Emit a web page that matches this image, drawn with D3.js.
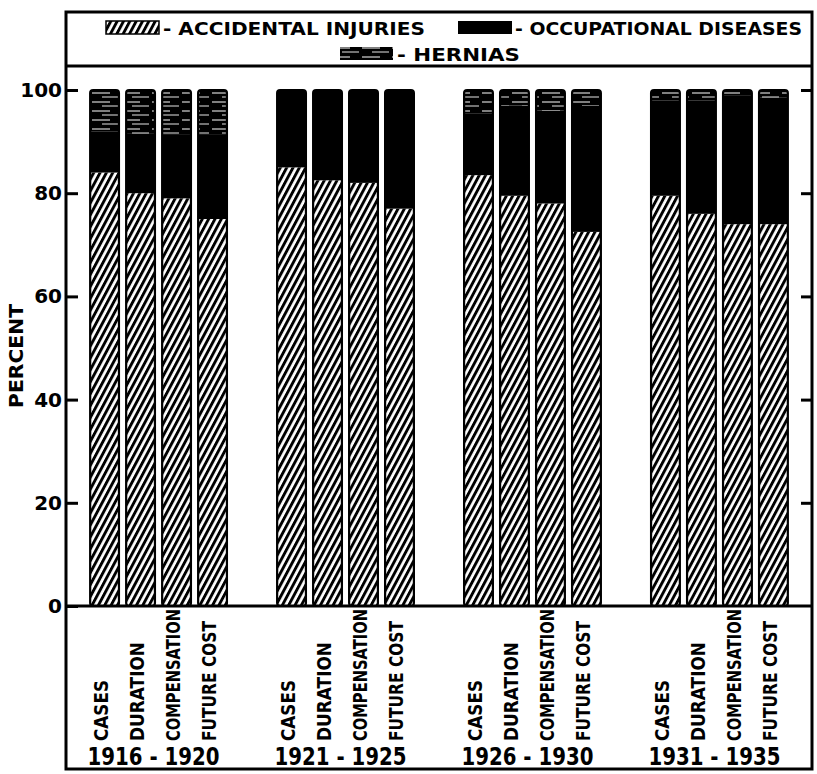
<!DOCTYPE html>
<html><head><meta charset="utf-8">
<script src="https://cdn.jsdelivr.net/npm/d3@7"></script>
<style>
body{margin:0;background:#fff}
svg{display:block}
text{font-family:"DejaVu Sans",sans-serif;font-weight:bold;fill:#000}
</style>
</head><body><svg id="c" width="817" height="774"></svg>
<script>
// ---- data ----
const periods = ["1916 - 1920", "1921 - 1925", "1926 - 1930", "1931 - 1935"];
const measures = ["CASES", "DURATION", "COMPENSATION", "FUTURE COST"];
const accidentalInjuries = [
  [84, 80, 79, 75],
  [85, 82.5, 82, 77],
  [83.5, 79.5, 78, 72.5],
  [79.5, 76, 74, 74]
];
const occupationalDiseases = [
  [8, 11.5, 12.3, 16.3],
  [15, 17.5, 18, 23],
  [12, 17.5, 18, 24.4],
  [18.5, 22, 25, 24.5]
];
const hernias = [
  [8, 8.5, 8.7, 8.7],
  [0, 0, 0, 0],
  [4.5, 3, 4, 3.1],
  [2, 2, 1, 1.5]
];
const yTicks = [0, 20, 40, 60, 80, 100];
const legendLabels = ["- ACCIDENTAL INJURIES", "- OCCUPATIONAL DISEASES", "- HERNIAS"];
const yLabel = "PERCENT";

// ---- layout ----
const svg = d3.select("#c");
const L = 66, R = 812, T = 12, B = 769, legendBottom = 66, plotBottom = 606;

const defs = svg.append("defs");
const hatch = defs.append("pattern").attr("id", "hatch")
  .attr("patternUnits", "userSpaceOnUse").attr("width", 5.6).attr("height", 5.6)
  .attr("patternTransform", "rotate(28)");
hatch.append("rect").attr("width", 5.6).attr("height", 5.6).attr("fill", "#fff");
hatch.append("rect").attr("width", 2.9).attr("height", 5.6).attr("fill", "#000");

const hern = defs.append("pattern").attr("id", "hern")
  .attr("patternUnits", "userSpaceOnUse").attr("width", 30).attr("height", 9);
hern.append("rect").attr("width", 30).attr("height", 9).attr("fill", "#000");
hern.append("line").attr("x1", 2).attr("x2", 20).attr("y1", 3).attr("y2", 3)
  .attr("stroke", "#fff").attr("stroke-width", 1);
hern.append("line").attr("x1", 12).attr("x2", 29).attr("y1", 7).attr("y2", 7)
  .attr("stroke", "#fff").attr("stroke-width", 0.9);

const y = d3.scaleLinear().domain([0, 100]).range([plotBottom, 90]);
const x0 = d3.scaleBand().domain(periods).range([L, R]).paddingInner(0.23).paddingOuter(0.11);
const x1 = d3.scaleBand().domain(measures).range([0, x0.bandwidth()]).paddingInner(0.2).paddingOuter(0.1);

const rows = [];
periods.forEach((p, i) => measures.forEach((m, j) => rows.push({
  period: p, measure: m, acc: accidentalInjuries[i][j], occ: occupationalDiseases[i][j], hern: hernias[i][j]
})));
const stack = d3.stack().keys(["acc", "occ", "hern"])(rows);
const fills = {acc: "url(#hatch)", occ: "#000", hern: "url(#hern)"};

// clip paths for rounded bar tops
rows.forEach((r, k) => {
  defs.append("clipPath").attr("id", "clip" + k).append("rect")
    .attr("x", x0(r.period) + x1(r.measure)).attr("y", y(100))
    .attr("width", x1.bandwidth()).attr("height", y(0) - y(100)).attr("rx", 3);
});

const barsG = svg.append("g");
stack.forEach(layer => {
  barsG.selectAll(null).data(layer).join("rect")
    .attr("clip-path", (d, k) => `url(#clip${k})`)
    .attr("x", d => x0(d.data.period) + x1(d.data.measure))
    .attr("y", d => y(d[1]))
    .attr("width", x1.bandwidth())
    .attr("height", d => y(d[0]) - y(d[1]))
    .attr("fill", fills[layer.key]);
});
barsG.selectAll(null).data(rows).join("rect")
  .attr("x", d => x0(d.period) + x1(d.measure))
  .attr("y", y(100))
  .attr("width", x1.bandwidth())
  .attr("height", y(0) - y(100))
  .attr("rx", 3)
  .attr("fill", "none").attr("stroke", "#000").attr("stroke-width", 2.2);

// ---- frame ----
svg.append("rect").attr("x", L).attr("y", T).attr("width", R - L).attr("height", B - T)
  .attr("fill", "none").attr("stroke", "#000").attr("stroke-width", 3);
svg.append("line").attr("x1", L).attr("x2", R).attr("y1", legendBottom).attr("y2", legendBottom)
  .attr("stroke", "#000").attr("stroke-width", 3);
svg.append("line").attr("x1", L).attr("x2", R).attr("y1", plotBottom).attr("y2", plotBottom)
  .attr("stroke", "#000").attr("stroke-width", 3);

// ---- axes ----
const leftAxis = svg.append("g").attr("transform", `translate(${L},0)`)
  .call(d3.axisLeft(y).tickValues(yTicks).tickFormat(d3.format("d"))
    .tickSizeInner(-12).tickSizeOuter(0).tickPadding(4));
leftAxis.select(".domain").remove();
leftAxis.selectAll(".tick line").attr("stroke", "#000").attr("stroke-width", 3);
leftAxis.selectAll(".tick text").attr("font-size", 20).attr("font-family", "DejaVu Sans")
  .attr("font-weight", "bold").attr("fill", "#000");

const rightAxis = svg.append("g").attr("transform", `translate(${R},0)`)
  .call(d3.axisRight(y).tickValues(yTicks.filter(v => v > 0)).tickFormat("")
    .tickSizeInner(-11).tickSizeOuter(0));
rightAxis.select(".domain").remove();
rightAxis.selectAll(".tick line").attr("stroke", "#000").attr("stroke-width", 3);

svg.append("text").attr("transform", "translate(23,356) rotate(-90)")
  .attr("text-anchor", "middle").attr("font-size", 20)
  .attr("textLength", 104).attr("lengthAdjust", "spacingAndGlyphs").text(yLabel);

// ---- category labels ----
const labLen = {"CASES": 61, "DURATION": 99, "COMPENSATION": 132, "FUTURE COST": 120};
periods.forEach(p => {
  measures.forEach(m => {
    const cx = x0(p) + x1(m) + x1.bandwidth() / 2 - 3;
    svg.append("text").attr("transform", `translate(${cx},741) rotate(-90)`)
      .attr("text-anchor", "start").attr("dy", "0.36em").attr("font-size", 19)
      .attr("textLength", labLen[m]).attr("lengthAdjust", "spacingAndGlyphs").text(m);
  });
  svg.append("text").attr("x", x0(p) + x0.bandwidth() / 2 - 5).attr("y", 765)
    .attr("text-anchor", "middle").attr("font-size", 25)
    .attr("textLength", 132).attr("lengthAdjust", "spacingAndGlyphs").text(p);
});

// ---- legend ----
const lg = svg.append("g");
lg.append("rect").attr("x", 106).attr("y", 21).attr("width", 53).attr("height", 13)
  .attr("fill", "url(#hatch)").attr("stroke", "#000").attr("stroke-width", 1.5);
lg.append("text").attr("x", 163).attr("y", 35).attr("font-size", 18)
  .attr("textLength", 262).attr("lengthAdjust", "spacingAndGlyphs").text(legendLabels[0]);
lg.append("rect").attr("x", 458).attr("y", 21).attr("width", 54).attr("height", 13)
  .attr("fill", "#000");
lg.append("text").attr("x", 515).attr("y", 35).attr("font-size", 18)
  .attr("textLength", 287).attr("lengthAdjust", "spacingAndGlyphs").text(legendLabels[1]);
lg.append("rect").attr("x", 340).attr("y", 47).attr("width", 53).attr("height", 13)
  .attr("fill", "url(#hern)");
lg.append("text").attr("x", 397).attr("y", 61).attr("font-size", 18)
  .attr("textLength", 123).attr("lengthAdjust", "spacingAndGlyphs").text(legendLabels[2]);
</script>
</body></html>
